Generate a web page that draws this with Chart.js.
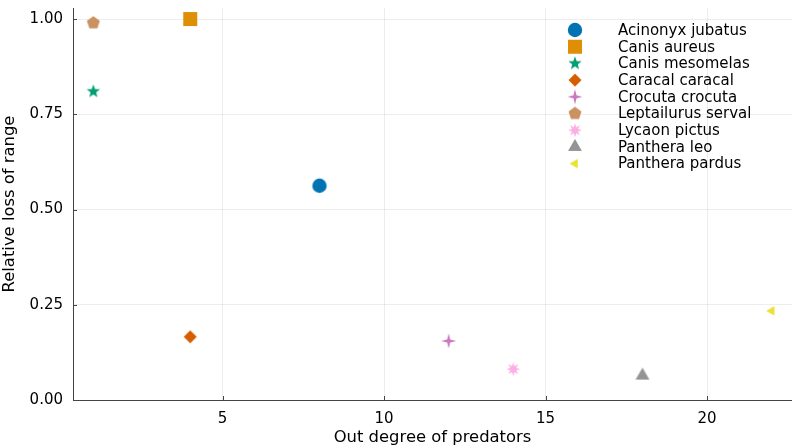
<!DOCTYPE html>
<html lang="en">
<head>
    <meta charset="UTF-8">
    <title>Relative loss of range vs out degree</title>
    <script src="https://cdn.jsdelivr.net/npm/chart.js"></script>
    <style>
        body { margin: 0; background: #ffffff; }
        #wrap { width: 792px; height: 448px; }
    </style>
</head>
<body>
    <div id="wrap"><canvas id="chart" width="792" height="448"></canvas></div>

    <script>
        // data
        var species = ['Acinonyx jubatus', 'Canis aureus', 'Canis mesomelas', 'Caracal caracal',
            'Crocuta crocuta', 'Leptailurus serval', 'Lycaon pictus', 'Panthera leo', 'Panthera pardus'];
        var outDegree = [8, 4, 1, 4, 12, 1, 14, 18, 22];
        var rangeLoss = [0.5625, 1.0, 0.81, 0.166, 0.155, 0.99, 0.081, 0.064, 0.234];
        var xTicks = [5, 10, 15, 20];
        var yTicks = [0, 0.25, 0.5, 0.75, 1.0];

        var colors = ['#0173B2', '#DE8F05', '#029E73', '#D55E00', '#CC78BC',
            '#CA9161', '#FBAFE4', '#949494', '#ECE133'];
        var shapes = ['circle', 'square', 'star5', 'diamond', 'star4', 'pentagon', 'star8', 'utriangle', 'ltriangle'];

        // build a marker image for each shape
        function makeMarker(shape, color) {
            var s = 20, c = document.createElement('canvas');
            c.width = s; c.height = s;
            var g = c.getContext('2d');
            g.fillStyle = color;
            g.translate(s / 2, s / 2);
            g.beginPath();
            function star(n, ro, ri, rot) {
                for (var i = 0; i < n * 2; i++) {
                    var r = i % 2 === 0 ? ro : ri;
                    var a = rot + i * Math.PI / n;
                    g.lineTo(r * Math.cos(a), r * Math.sin(a));
                }
            }
            function poly(n, r, rot) {
                for (var i = 0; i < n; i++) {
                    var a = rot + i * 2 * Math.PI / n;
                    g.lineTo(r * Math.cos(a), r * Math.sin(a));
                }
            }
            if (shape === 'circle') g.arc(0, 0, 7.2, 0, Math.PI * 2);
            else if (shape === 'square') g.rect(-7, -7, 14, 14);
            else if (shape === 'star5') star(5, 7, 2.9, -Math.PI / 2);
            else if (shape === 'diamond') poly(4, 6.5, 0);
            else if (shape === 'star4') star(4, 7.5, 2.2, -Math.PI / 2);
            else if (shape === 'pentagon') poly(5, 6.8, -Math.PI / 2);
            else if (shape === 'star8') star(8, 7, 3.2, -Math.PI / 2);
            else if (shape === 'utriangle') poly(3, 8, -Math.PI / 2);
            else if (shape === 'ltriangle') poly(3, 5.5, Math.PI);
            g.closePath();
            g.fill();
            return c;
        }

        var markers = shapes.map(function (sh, i) { return makeMarker(sh, colors[i]); });

        var datasets = species.map(function (name, i) {
            return {
                label: name,
                data: [{ x: outDegree[i], y: rangeLoss[i] }],
                pointStyle: markers[i],
                backgroundColor: colors[i],
                borderColor: colors[i]
            };
        });

        var fontFamily = "'DejaVu Sans', sans-serif";

        // legend inside the plot + inward tick marks
        var extras = {
            id: 'extras',
            afterLayout: function (chart) {
                // let the plot run to the right edge of the canvas
                var a = chart.chartArea, xs = chart.scales.x;
                a.right = chart.width;
                a.width = a.right - a.left;
                xs.right = chart.width;
                xs.width = xs.right - xs.left;
                xs.configure();
            },
            afterDatasetsDraw: function (chart) {
                var ctx = chart.ctx, xs = chart.scales.x, ys = chart.scales.y;
                var area = chart.chartArea;
                ctx.save();
                ctx.strokeStyle = '#444444';
                ctx.lineWidth = 1;
                ctx.beginPath();
                xTicks.forEach(function (t) {
                    var px = Math.round(xs.getPixelForValue(t)) + 0.5;
                    ctx.moveTo(px, area.bottom);
                    ctx.lineTo(px, area.bottom - 4);
                });
                yTicks.forEach(function (t) {
                    var py = Math.round(ys.getPixelForValue(t)) + 0.5;
                    ctx.moveTo(area.left, py);
                    ctx.lineTo(area.left + 4, py);
                });
                ctx.stroke();

                ctx.font = '15px ' + fontFamily;
                ctx.fillStyle = '#000000';
                ctx.textBaseline = 'middle';
                species.forEach(function (name, i) {
                    var y = 30 + i * 16.7;
                    ctx.drawImage(markers[i], 575 - 10, y - 10);
                    ctx.fillText(name, 618, y + 1);
                });
                ctx.restore();
            }
        };

        new Chart(document.getElementById('chart'), {
            type: 'scatter',
            data: { datasets: datasets },
            plugins: [extras],
            options: {
                responsive: false,
                animation: false,
                layout: { padding: { left: 0, right: 0, top: 8, bottom: 0 } },
                plugins: { legend: { display: false }, tooltip: { enabled: false } },
                scales: {
                    x: {
                        min: 0.37,
                        max: 22.63,
                        afterBuildTicks: function (s) { s.ticks = xTicks.map(function (v) { return { value: v }; }); },
                        afterFit: function (s) { s.height = 48; s.paddingLeft = 0; s.paddingRight = 0; },
                        grid: { color: 'rgba(0,0,0,0.07)', tickLength: 0 },
                        border: { color: '#444444' },
                        ticks: { color: '#000000', font: { family: fontFamily, size: 15 }, padding: 10, maxRotation: 0 },
                        title: { display: true, text: 'Out degree of predators', color: '#000000',
                            font: { family: fontFamily, size: 16.4 }, padding: { top: 0, bottom: 0 } }
                    },
                    y: {
                        min: 0,
                        max: 1.029,
                        afterBuildTicks: function (s) { s.ticks = yTicks.map(function (v) { return { value: v }; }); },
                        afterFit: function (s) { s.width = 73; s.paddingTop = 0; s.paddingBottom = 0; },
                        grid: { color: 'rgba(0,0,0,0.07)', tickLength: 0 },
                        border: { color: '#444444' },
                        ticks: { color: '#000000', font: { family: fontFamily, size: 15 }, padding: 10,
                            callback: function (v) { return Number(v).toFixed(2); } },
                        title: { display: true, text: 'Relative loss of range', color: '#000000',
                            font: { family: fontFamily, size: 16.4 }, padding: { top: 0, bottom: 0 } }
                    }
                }
            }
        });
    </script>
</body>
</html>
